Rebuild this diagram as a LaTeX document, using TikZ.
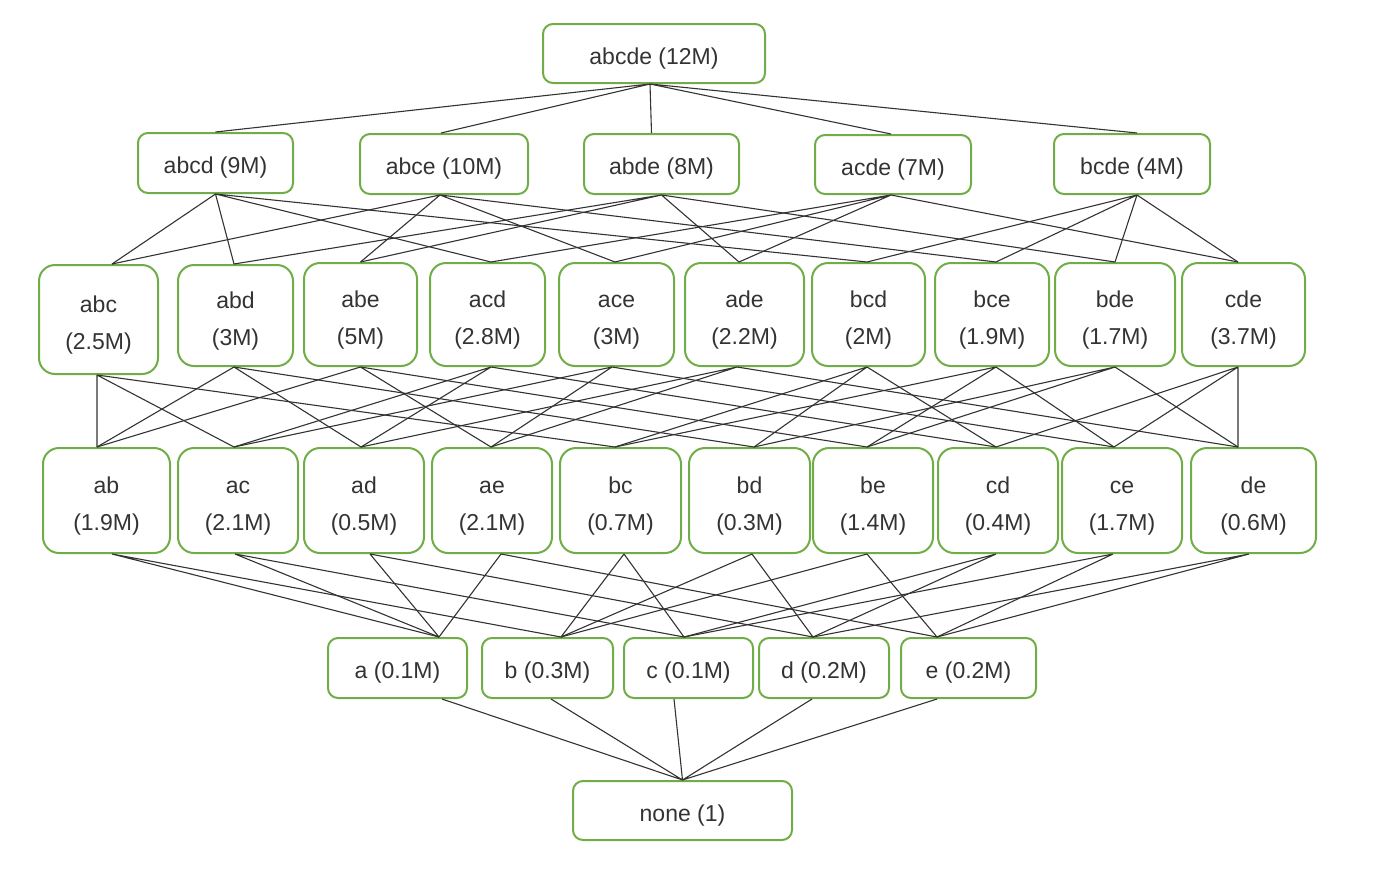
\documentclass[tikz,border=0pt]{standalone}
\usepackage{fontspec}
\setmainfont{Liberation Sans}
\usepackage{tikz}
\definecolor{leaf}{HTML}{70AD47}
\definecolor{ink}{HTML}{333333}
\newcommand{\twoline}[2]{\rule{0pt}{30pt}#1\\#2\rule[-8pt]{0pt}{8pt}}

\begin{document}
\begin{tikzpicture}[x=1pt, y=-1pt]
	\tikzstyle{setbox}=[draw=leaf, line width=2pt, rounded corners=10pt, align=center, inner sep=0pt, text=ink, font=\fontsize{23}{37}\selectfont, execute at begin node={\rule[-8pt]{0pt}{37pt}}, execute at end node={\rule[-8pt]{0pt}{37pt}}]
	\tikzstyle{tallbox}=[setbox, rounded corners=16pt, execute at begin node={}, execute at end node={}]
	\tikzstyle{link}=[line width=1.1pt, ink]
	\useasboundingbox (0,0) rectangle (1392,876);
	%%% FULL SET %%%
	\node[setbox, minimum width=222pt, minimum height=59pt] (abcde) at (654,53.5) {abcde (12M)};
	%%% FOUR ITEMS %%%
	\node[setbox, minimum width=155pt, minimum height=60pt] (abcd) at (215.5,163) {abcd (9M)};
	\node[setbox, minimum width=168pt, minimum height=60pt] (abce) at (444,164) {abce (10M)};
	\node[setbox, minimum width=155pt, minimum height=60pt] (abde) at (661.5,164) {abde (8M)};
	\node[setbox, minimum width=156pt, minimum height=59pt] (acde) at (893,164.5) {acde (7M)};
	\node[setbox, minimum width=156pt, minimum height=60pt] (bcde) at (1132,164) {bcde (4M)};
	%%% THREE ITEMS %%%
	\node[tallbox, minimum width=119pt, minimum height=109pt] (abc) at (98.5,319.5) {\twoline{abc}{(2.5M)}};
	\node[tallbox, minimum width=115pt, minimum height=101pt] (abd) at (235.5,315.5) {\twoline{abd}{(3M)}};
	\node[tallbox, minimum width=113pt, minimum height=103pt] (abe) at (360.5,314.5) {\twoline{abe}{(5M)}};
	\node[tallbox, minimum width=115pt, minimum height=103pt] (acd) at (487.5,314.5) {\twoline{acd}{(2.8M)}};
	\node[tallbox, minimum width=115pt, minimum height=103pt] (ace) at (616.5,314.5) {\twoline{ace}{(3M)}};
	\node[tallbox, minimum width=119pt, minimum height=103pt] (ade) at (744.5,314.5) {\twoline{ade}{(2.2M)}};
	\node[tallbox, minimum width=113pt, minimum height=103pt] (bcd) at (868.5,314.5) {\twoline{bcd}{(2M)}};
	\node[tallbox, minimum width=114pt, minimum height=103pt] (bce) at (992,314.5) {\twoline{bce}{(1.9M)}};
	\node[tallbox, minimum width=120pt, minimum height=103pt] (bde) at (1115,314.5) {\twoline{bde}{(1.7M)}};
	\node[tallbox, minimum width=123pt, minimum height=103pt] (cde) at (1243.5,314.5) {\twoline{cde}{(3.7M)}};
	%%% TWO ITEMS %%%
	\node[tallbox, minimum width=127pt, minimum height=105pt] (ab) at (106.5,500.5) {\twoline{ab}{(1.9M)}};
	\node[tallbox, minimum width=120pt, minimum height=105pt] (ac) at (238,500.5) {\twoline{ac}{(2.1M)}};
	\node[tallbox, minimum width=120pt, minimum height=105pt] (ad) at (364,500.5) {\twoline{ad}{(0.5M)}};
	\node[tallbox, minimum width=120pt, minimum height=105pt] (ae) at (492,500.5) {\twoline{ae}{(2.1M)}};
	\node[tallbox, minimum width=121pt, minimum height=105pt] (bc) at (620.5,500.5) {\twoline{bc}{(0.7M)}};
	\node[tallbox, minimum width=121pt, minimum height=105pt] (bd) at (749.5,500.5) {\twoline{bd}{(0.3M)}};
	\node[tallbox, minimum width=120pt, minimum height=105pt] (be) at (873,500.5) {\twoline{be}{(1.4M)}};
	\node[tallbox, minimum width=120pt, minimum height=105pt] (cd) at (998,500.5) {\twoline{cd}{(0.4M)}};
	\node[tallbox, minimum width=120pt, minimum height=105pt] (ce) at (1122,500.5) {\twoline{ce}{(1.7M)}};
	\node[tallbox, minimum width=125pt, minimum height=105pt] (de) at (1253.5,500.5) {\twoline{de}{(0.6M)}};
	%%% ONE ITEM %%%
	\node[setbox, minimum width=139pt, minimum height=60pt] (a) at (397.5,668) {a (0.1M)};
	\node[setbox, minimum width=131pt, minimum height=60pt] (b) at (547.5,668) {b (0.3M)};
	\node[setbox, minimum width=129pt, minimum height=60pt] (c) at (688.5,668) {c (0.1M)};
	\node[setbox, minimum width=130pt, minimum height=60pt] (d) at (824,668) {d (0.2M)};
	\node[setbox, minimum width=135pt, minimum height=60pt] (e) at (968.5,668) {e (0.2M)};
	%%% EMPTY SET %%%
	\node[setbox, minimum width=219pt, minimum height=59pt] (none) at (682.5,810.5) {none (1)};
	%%% where the lines meet the boxes %%%
	\coordinate (abcde-b) at ([xshift=-4pt]abcde.south);
	\coordinate (abcd-t) at (abcd.north);
	\coordinate (abcd-b) at (abcd.south);
	\coordinate (abce-t) at ([xshift=-3pt]abce.north);
	\coordinate (abce-b) at ([xshift=-4pt]abce.south);
	\coordinate (abde-t) at ([xshift=-10pt]abde.north);
	\coordinate (abde-b) at (abde.south);
	\coordinate (acde-t) at ([xshift=-2pt]acde.north);
	\coordinate (acde-b) at ([xshift=-2pt]acde.south);
	\coordinate (bcde-t) at ([xshift=5pt]bcde.north);
	\coordinate (bcde-b) at ([xshift=5pt]bcde.south);
	\coordinate (abc-t) at ([xshift=13.5pt]abc.north);
	\coordinate (abc-b) at ([xshift=-1.5pt]abc.south);
	\coordinate (abd-t) at ([xshift=-1.5pt]abd.north);
	\coordinate (abd-b) at ([xshift=-1.5pt]abd.south);
	\coordinate (abe-t) at (abe.north);
	\coordinate (abe-b) at (abe.south);
	\coordinate (acd-t) at ([xshift=3.5pt]acd.north);
	\coordinate (acd-b) at ([xshift=3.5pt]acd.south);
	\coordinate (ace-t) at ([xshift=-1.5pt]ace.north);
	\coordinate (ace-b) at ([xshift=-4.5pt]ace.south);
	\coordinate (ade-t) at ([xshift=-5.5pt]ade.north);
	\coordinate (ade-b) at ([xshift=-7.5pt]ade.south);
	\coordinate (bcd-t) at ([xshift=-1.5pt]bcd.north);
	\coordinate (bcd-b) at ([xshift=-1.5pt]bcd.south);
	\coordinate (bce-t) at ([xshift=4pt]bce.north);
	\coordinate (bce-b) at ([xshift=4pt]bce.south);
	\coordinate (bde-t) at (bde.north);
	\coordinate (bde-b) at (bde.south);
	\coordinate (cde-t) at ([xshift=-5.5pt]cde.north);
	\coordinate (cde-b) at ([xshift=-5.5pt]cde.south);
	\coordinate (ab-t) at ([xshift=-9.5pt]ab.north);
	\coordinate (ab-b) at ([xshift=5.5pt]ab.south);
	\coordinate (ac-t) at ([xshift=-4pt]ac.north);
	\coordinate (ac-b) at ([xshift=-3pt]ac.south);
	\coordinate (ad-t) at ([xshift=-3pt]ad.north);
	\coordinate (ad-b) at ([xshift=6pt]ad.south);
	\coordinate (ae-t) at ([xshift=-1pt]ae.north);
	\coordinate (ae-b) at ([xshift=9pt]ae.south);
	\coordinate (bc-t) at ([xshift=-5.5pt]bc.north);
	\coordinate (bc-b) at ([xshift=3.5pt]bc.south);
	\coordinate (bd-t) at ([xshift=4.5pt]bd.north);
	\coordinate (bd-b) at ([xshift=2.5pt]bd.south);
	\coordinate (be-t) at ([xshift=-6pt]be.north);
	\coordinate (be-b) at ([xshift=-6pt]be.south);
	\coordinate (cd-t) at ([xshift=-2pt]cd.north);
	\coordinate (cd-b) at ([xshift=-2pt]cd.south);
	\coordinate (ce-t) at ([xshift=-8pt]ce.north);
	\coordinate (ce-b) at ([xshift=-9pt]ce.south);
	\coordinate (de-t) at ([xshift=-15.5pt]de.north);
	\coordinate (de-b) at ([xshift=-4.5pt]de.south);
	\coordinate (a-t) at ([xshift=41.5pt]a.north);
	\coordinate (a-b) at ([xshift=44.5pt]a.south);
	\coordinate (b-t) at ([xshift=13.5pt]b.north);
	\coordinate (b-b) at ([xshift=3.5pt]b.south);
	\coordinate (c-t) at ([xshift=-4.5pt]c.north);
	\coordinate (c-b) at ([xshift=-14.5pt]c.south);
	\coordinate (d-t) at ([xshift=-11pt]d.north);
	\coordinate (d-b) at ([xshift=-12pt]d.south);
	\coordinate (e-t) at ([xshift=-31.5pt]e.north);
	\coordinate (e-b) at ([xshift=-31.5pt]e.south);
	\coordinate (none-t) at (none.north);
	%%% lines from the full set %%%
	\draw[link] (abcde-b) -- (abcd-t) (abcde-b) -- (abce-t) (abcde-b) -- (abde-t) (abcde-b) -- (acde-t) (abcde-b) -- (bcde-t);
	%%% lines from four items %%%
	\draw[link] (abcd-b) -- (abc-t) (abcd-b) -- (abd-t) (abcd-b) -- (acd-t) (abcd-b) -- (bcd-t);
	\draw[link] (abce-b) -- (abc-t) (abce-b) -- (abe-t) (abce-b) -- (ace-t) (abce-b) -- (bce-t);
	\draw[link] (abde-b) -- (abd-t) (abde-b) -- (abe-t) (abde-b) -- (ade-t) (abde-b) -- (bde-t);
	\draw[link] (acde-b) -- (acd-t) (acde-b) -- (ace-t) (acde-b) -- (ade-t) (acde-b) -- (cde-t);
	\draw[link] (bcde-b) -- (bcd-t) (bcde-b) -- (bce-t) (bcde-b) -- (bde-t) (bcde-b) -- (cde-t);
	%%% lines from three items %%%
	\draw[link] (abc-b) -- (ab-t) (abc-b) -- (ac-t) (abc-b) -- (bc-t);
	\draw[link] (abd-b) -- (ab-t) (abd-b) -- (ad-t) (abd-b) -- (bd-t);
	\draw[link] (abe-b) -- (ab-t) (abe-b) -- (ae-t) (abe-b) -- (be-t);
	\draw[link] (acd-b) -- (ac-t) (acd-b) -- (ad-t) (acd-b) -- (cd-t);
	\draw[link] (ace-b) -- (ac-t) (ace-b) -- (ae-t) (ace-b) -- (ce-t);
	\draw[link] (ade-b) -- (ad-t) (ade-b) -- (ae-t) (ade-b) -- (de-t);
	\draw[link] (bcd-b) -- (bc-t) (bcd-b) -- (bd-t) (bcd-b) -- (cd-t);
	\draw[link] (bce-b) -- (bc-t) (bce-b) -- (be-t) (bce-b) -- (ce-t);
	\draw[link] (bde-b) -- (bd-t) (bde-b) -- (be-t) (bde-b) -- (de-t);
	\draw[link] (cde-b) -- (cd-t) (cde-b) -- (ce-t) (cde-b) -- (de-t);
	%%% lines from two items %%%
	\draw[link] (ab-b) -- (a-t) (ab-b) -- (b-t);
	\draw[link] (ac-b) -- (a-t) (ac-b) -- (c-t);
	\draw[link] (ad-b) -- (a-t) (ad-b) -- (d-t);
	\draw[link] (ae-b) -- (a-t) (ae-b) -- (e-t);
	\draw[link] (bc-b) -- (b-t) (bc-b) -- (c-t);
	\draw[link] (bd-b) -- (b-t) (bd-b) -- (d-t);
	\draw[link] (be-b) -- (b-t) (be-b) -- (e-t);
	\draw[link] (cd-b) -- (c-t) (cd-b) -- (d-t);
	\draw[link] (ce-b) -- (c-t) (ce-b) -- (e-t);
	\draw[link] (de-b) -- (d-t) (de-b) -- (e-t);
	%%% lines to the empty set %%%
	\draw[link] (a-b) -- (none-t) (b-b) -- (none-t) (c-b) -- (none-t) (d-b) -- (none-t) (e-b) -- (none-t);
\end{tikzpicture}
\end{document}
